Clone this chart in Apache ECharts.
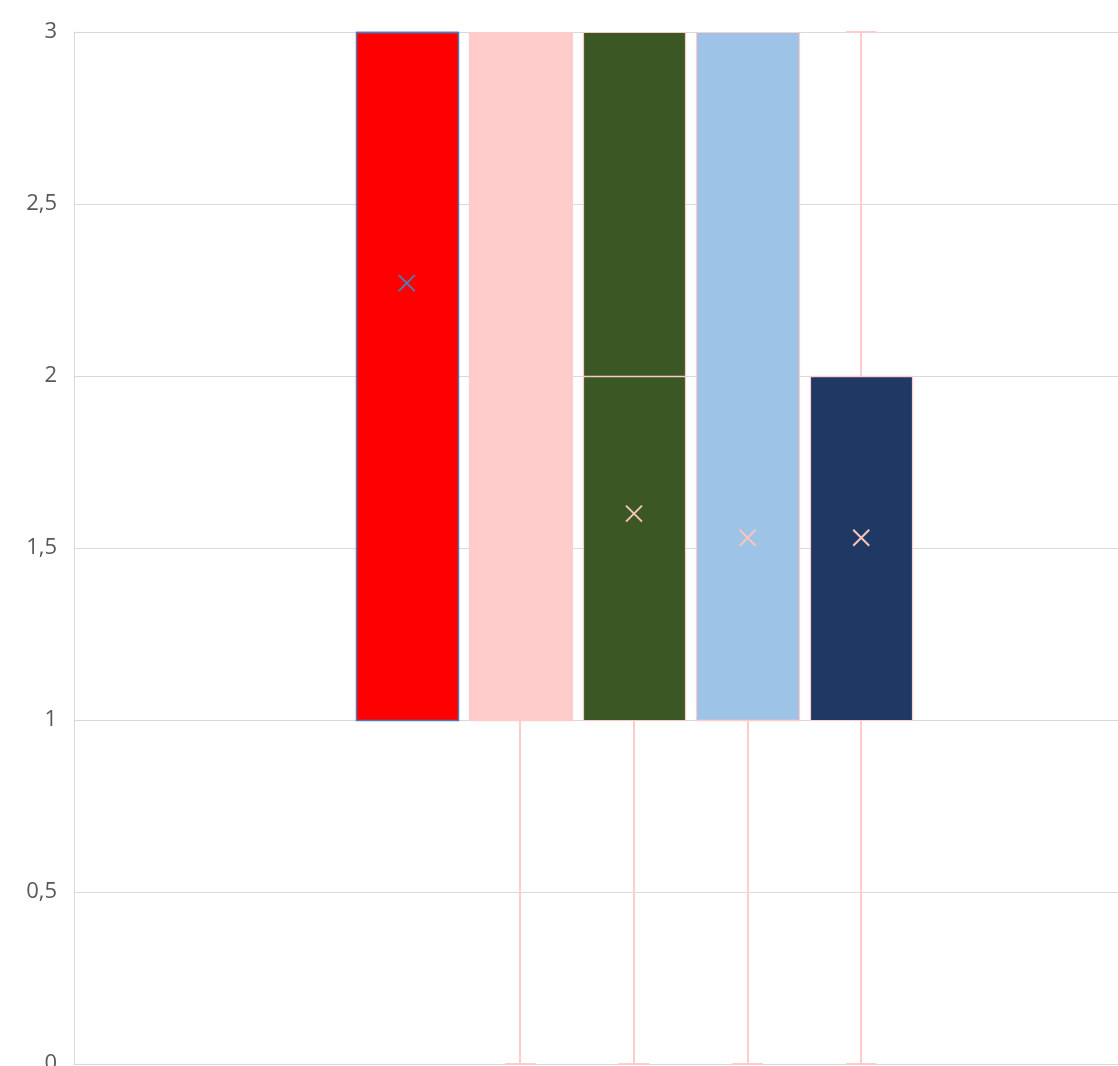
<!DOCTYPE html>
<html>
<head>
<meta charset="utf-8">
<style>
  html, body { margin: 0; padding: 0; background: #ffffff; }
  #chart { width: 1118px; height: 1066px; }
</style>
<script src="https://cdn.jsdelivr.net/npm/echarts@6/dist/echarts.min.js"></script>
</head>
<body>
<div id="chart"></div>
<script>
// Five box-and-whisker series sharing one value scale
const seriesNames = ['Série 1', 'Série 2', 'Série 3', 'Série 4', 'Série 5'];
const minValues    = [1, 0, 0, 0, 0];
const q1Values     = [1, 1, 1, 1, 1];
const medianValues = [3, 1, 2, 1, 2];
const q3Values     = [3, 3, 3, 3, 2];
const maxValues    = [3, 3, 3, 3, 3];
const meanValues   = [2.27, null, 1.6, 1.53, 1.53];
const yTicks = [0, 0.5, 1, 1.5, 2, 2.5, 3];

const fillColors   = ['#FF0000', '#FFCCCC', '#3A5724', '#9DC3E6', '#203864'];
const borderColors = ['#5079B5', '#FFCCCC', '#F6C9C4', '#FFCCCC', '#FFCCCC'];
const meanColors   = ['#4F7BB3', '#FFCCCC', '#F6C6BE', '#F6C6BE', '#F6C6BE'];
const whiskerColor = '#FFCCCC';

const boxData = seriesNames.map((n, i) =>
  [i, minValues[i], q1Values[i], medianValues[i], q3Values[i], maxValues[i]]);
const meanData = [];
seriesNames.forEach((n, i) => { if (meanValues[i] != null) meanData.push([i, meanValues[i]]); });

const crisp = v => Math.round(v);

function renderBox(params, api) {
  const i = api.value(0);
  const band = api.size([1, 0])[0];
  const boxW = band * 0.9;
  const capW = band * 0.27;
  const cx = api.coord([i, 0])[0];
  const y = k => api.coord([i, api.value(k)])[1];
  const yMin = y(1), yQ1 = y(2), yMed = y(3), yQ3 = y(4), yMax = y(5);
  const lx = crisp(cx);
  const wStyle = { stroke: whiskerColor, lineWidth: 2 };
  const children = [];
  // whiskers and end caps
  if (yMin !== yQ1) {
    children.push({ type: 'line', shape: { x1: lx, y1: yQ1, x2: lx, y2: yMin }, style: wStyle });
    children.push({ type: 'line', shape: { x1: cx - capW / 2, y1: yMin, x2: cx + capW / 2, y2: yMin }, style: wStyle });
  }
  if (yMax !== yQ3) {
    children.push({ type: 'line', shape: { x1: lx, y1: yQ3, x2: lx, y2: yMax }, style: wStyle });
    children.push({ type: 'line', shape: { x1: cx - capW / 2, y1: yMax, x2: cx + capW / 2, y2: yMax }, style: wStyle });
  }
  // interquartile box
  const left = crisp(cx - boxW / 2) + 0.5;
  const right = crisp(cx + boxW / 2) + 0.5;
  children.push({
    type: 'rect',
    shape: { x: left, y: crisp(yQ3) + 0.5, width: right - left, height: crisp(yQ1) - crisp(yQ3) },
    style: { fill: fillColors[i], stroke: borderColors[i], lineWidth: i === 0 ? 1.5 : 1.2 }
  });
  // median
  children.push({
    type: 'line',
    shape: { x1: left, y1: crisp(yMed) + 0.5, x2: right, y2: crisp(yMed) + 0.5 },
    style: { stroke: borderColors[i], lineWidth: 1.5 }
  });
  return { type: 'group', children };
}

function renderMean(params, api) {
  const i = api.value(0);
  const p = api.coord([i, api.value(1)]);
  const h = 8;
  const st = { stroke: meanColors[i], lineWidth: 2 };
  return {
    type: 'group',
    children: [
      { type: 'line', shape: { x1: p[0] - h, y1: p[1] - h, x2: p[0] + h, y2: p[1] + h }, style: st },
      { type: 'line', shape: { x1: p[0] - h, y1: p[1] + h, x2: p[0] + h, y2: p[1] - h }, style: st }
    ]
  };
}

const chart = echarts.init(document.getElementById('chart'), null, { renderer: 'canvas' });
chart.setOption({
  animation: false,
  backgroundColor: '#ffffff',
  grid: [
    { left: 74, right: 0, top: 32, bottom: 2, containLabel: false, outerBoundsMode: 'none' },
    { left: 350, width: 568, top: 32, bottom: 2, containLabel: false, outerBoundsMode: 'none' }
  ],
  xAxis: [
    { gridIndex: 0, type: 'value', min: 0, max: 1, show: true,
      axisLine: { show: true, lineStyle: { color: '#D9D9D9', width: 1 } },
      axisTick: { show: false }, axisLabel: { show: false }, splitLine: { show: false } },
    { gridIndex: 1, type: 'category', data: seriesNames, show: false }
  ],
  yAxis: [
    { gridIndex: 0, type: 'value', min: yTicks[0], max: yTicks[yTicks.length - 1], interval: 0.5,
      axisLine: { show: true, lineStyle: { color: '#D9D9D9', width: 1 } },
      axisTick: { show: false },
      splitLine: { show: true, lineStyle: { color: '#D9D9D9', width: 1 } },
      axisLabel: {
        margin: 17, fontSize: 22, color: '#595959', fontFamily: 'Open Sans, Noto Sans, sans-serif',
        formatter: v => String(v).replace('.', ',')
      } },
    { gridIndex: 1, type: 'value', min: 0, max: 3, show: false }
  ],
  series: [
    { type: 'custom', name: 'boxes', xAxisIndex: 1, yAxisIndex: 1,
      data: boxData, encode: { x: 0, y: [1, 2, 3, 4, 5] }, renderItem: renderBox, clip: false },
    { type: 'custom', name: 'means', xAxisIndex: 1, yAxisIndex: 1,
      data: meanData, encode: { x: 0, y: 1 }, renderItem: renderMean, z: 3, clip: false }
  ]
});
</script>
</body>
</html>
